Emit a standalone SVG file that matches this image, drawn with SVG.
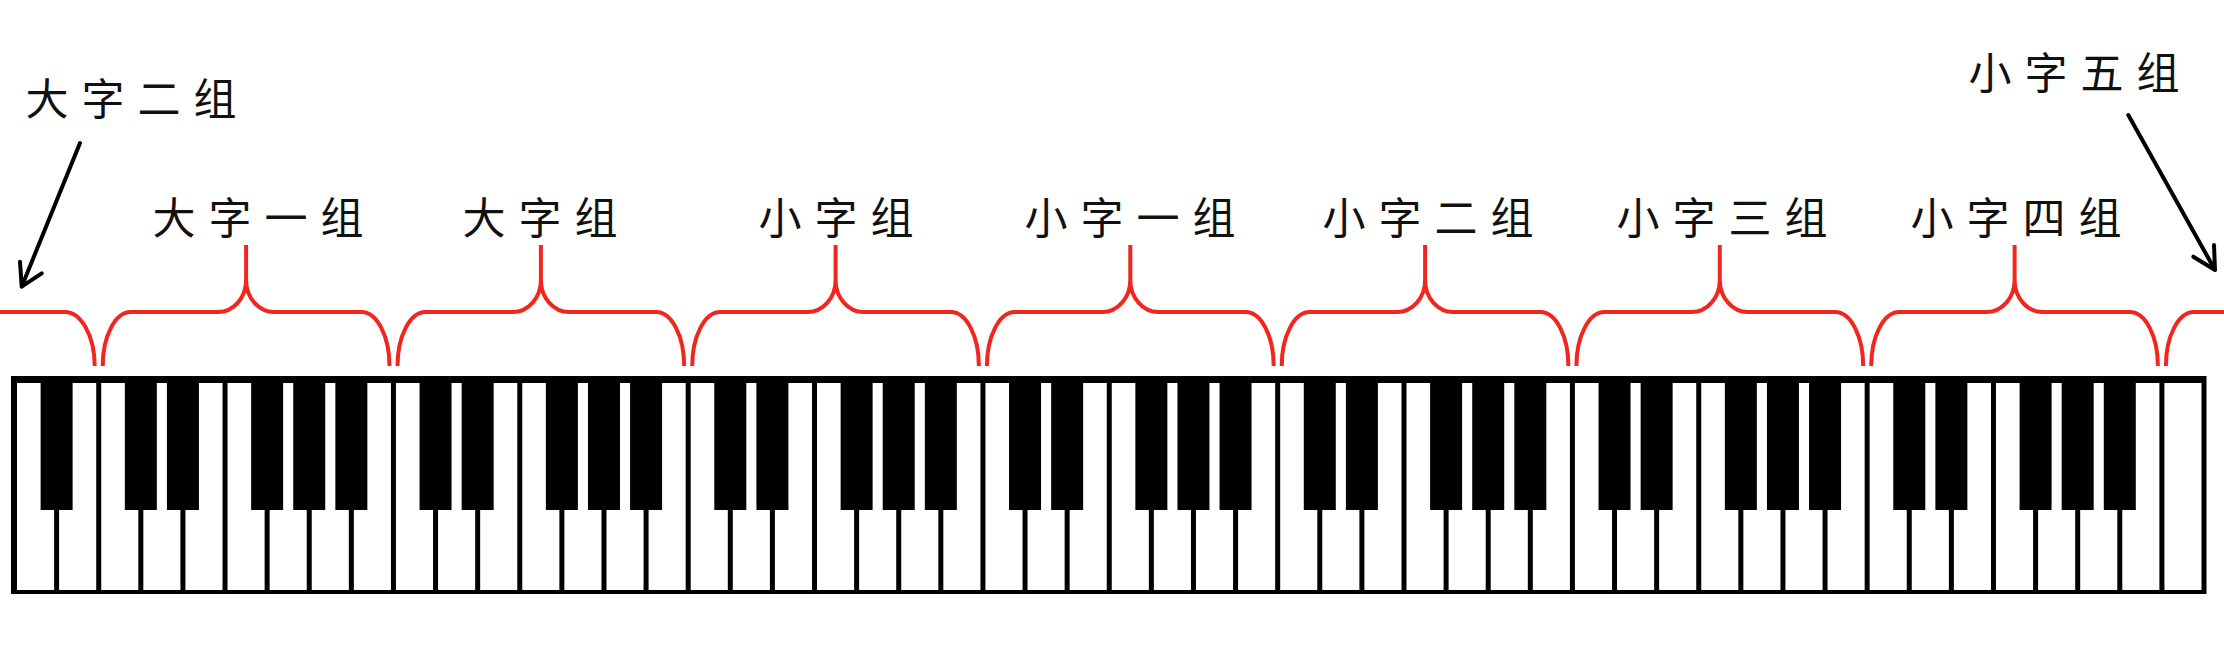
<svg xmlns="http://www.w3.org/2000/svg" width="2224" height="672" viewBox="0 0 2224 672">
<style>
.lbl{font-family:"Noto Sans CJK SC","Noto Sans CJK JP",sans-serif;font-size:43px;letter-spacing:13px;fill:#111;text-anchor:middle}
.brace{fill:none;stroke:#f0261f;stroke-width:4}
.w{fill:#fff}
.b{fill:#000}
.arr{fill:none;stroke:#000;stroke-width:4;stroke-linecap:round;stroke-linejoin:round}
</style>
<rect width="2224" height="672" fill="#fff"/>

<g id="keyboard">
<rect x="11" y="376" width="2195.5" height="218" fill="#000"/>
<g id="white-keys">
<rect class="w" x="17.00" y="383" width="37.1" height="207"/>
<rect class="w" x="59.11" y="383" width="37.1" height="207"/>
<rect class="w" x="101.21" y="383" width="37.1" height="207"/>
<rect class="w" x="143.32" y="383" width="37.1" height="207"/>
<rect class="w" x="185.42" y="383" width="37.1" height="207"/>
<rect class="w" x="227.53" y="383" width="37.1" height="207"/>
<rect class="w" x="269.64" y="383" width="37.1" height="207"/>
<rect class="w" x="311.74" y="383" width="37.1" height="207"/>
<rect class="w" x="353.85" y="383" width="37.1" height="207"/>
<rect class="w" x="395.95" y="383" width="37.1" height="207"/>
<rect class="w" x="438.06" y="383" width="37.1" height="207"/>
<rect class="w" x="480.17" y="383" width="37.1" height="207"/>
<rect class="w" x="522.27" y="383" width="37.1" height="207"/>
<rect class="w" x="564.38" y="383" width="37.1" height="207"/>
<rect class="w" x="606.48" y="383" width="37.1" height="207"/>
<rect class="w" x="648.59" y="383" width="37.1" height="207"/>
<rect class="w" x="690.70" y="383" width="37.1" height="207"/>
<rect class="w" x="732.80" y="383" width="37.1" height="207"/>
<rect class="w" x="774.91" y="383" width="37.1" height="207"/>
<rect class="w" x="817.01" y="383" width="37.1" height="207"/>
<rect class="w" x="859.12" y="383" width="37.1" height="207"/>
<rect class="w" x="901.23" y="383" width="37.1" height="207"/>
<rect class="w" x="943.33" y="383" width="37.1" height="207"/>
<rect class="w" x="985.44" y="383" width="37.1" height="207"/>
<rect class="w" x="1027.54" y="383" width="37.1" height="207"/>
<rect class="w" x="1069.65" y="383" width="37.1" height="207"/>
<rect class="w" x="1111.76" y="383" width="37.1" height="207"/>
<rect class="w" x="1153.86" y="383" width="37.1" height="207"/>
<rect class="w" x="1195.97" y="383" width="37.1" height="207"/>
<rect class="w" x="1238.07" y="383" width="37.1" height="207"/>
<rect class="w" x="1280.18" y="383" width="37.1" height="207"/>
<rect class="w" x="1322.29" y="383" width="37.1" height="207"/>
<rect class="w" x="1364.39" y="383" width="37.1" height="207"/>
<rect class="w" x="1406.50" y="383" width="37.1" height="207"/>
<rect class="w" x="1448.60" y="383" width="37.1" height="207"/>
<rect class="w" x="1490.71" y="383" width="37.1" height="207"/>
<rect class="w" x="1532.82" y="383" width="37.1" height="207"/>
<rect class="w" x="1574.92" y="383" width="37.1" height="207"/>
<rect class="w" x="1617.03" y="383" width="37.1" height="207"/>
<rect class="w" x="1659.13" y="383" width="37.1" height="207"/>
<rect class="w" x="1701.24" y="383" width="37.1" height="207"/>
<rect class="w" x="1743.35" y="383" width="37.1" height="207"/>
<rect class="w" x="1785.45" y="383" width="37.1" height="207"/>
<rect class="w" x="1827.56" y="383" width="37.1" height="207"/>
<rect class="w" x="1869.66" y="383" width="37.1" height="207"/>
<rect class="w" x="1911.77" y="383" width="37.1" height="207"/>
<rect class="w" x="1953.88" y="383" width="37.1" height="207"/>
<rect class="w" x="1995.98" y="383" width="37.1" height="207"/>
<rect class="w" x="2038.09" y="383" width="37.1" height="207"/>
<rect class="w" x="2080.19" y="383" width="37.1" height="207"/>
<rect class="w" x="2122.30" y="383" width="37.1" height="207"/>
<rect class="w" x="2164.41" y="383" width="37.1" height="207"/>
</g>
<g id="black-keys">
<rect class="b" x="40.61" y="376" width="32" height="134"/>
<rect class="b" x="124.82" y="376" width="32" height="134"/>
<rect class="b" x="166.92" y="376" width="32" height="134"/>
<rect class="b" x="251.14" y="376" width="32" height="134"/>
<rect class="b" x="293.24" y="376" width="32" height="134"/>
<rect class="b" x="335.35" y="376" width="32" height="134"/>
<rect class="b" x="419.56" y="376" width="32" height="134"/>
<rect class="b" x="461.67" y="376" width="32" height="134"/>
<rect class="b" x="545.88" y="376" width="32" height="134"/>
<rect class="b" x="587.98" y="376" width="32" height="134"/>
<rect class="b" x="630.09" y="376" width="32" height="134"/>
<rect class="b" x="714.30" y="376" width="32" height="134"/>
<rect class="b" x="756.41" y="376" width="32" height="134"/>
<rect class="b" x="840.62" y="376" width="32" height="134"/>
<rect class="b" x="882.73" y="376" width="32" height="134"/>
<rect class="b" x="924.83" y="376" width="32" height="134"/>
<rect class="b" x="1009.04" y="376" width="32" height="134"/>
<rect class="b" x="1051.15" y="376" width="32" height="134"/>
<rect class="b" x="1135.36" y="376" width="32" height="134"/>
<rect class="b" x="1177.47" y="376" width="32" height="134"/>
<rect class="b" x="1219.57" y="376" width="32" height="134"/>
<rect class="b" x="1303.79" y="376" width="32" height="134"/>
<rect class="b" x="1345.89" y="376" width="32" height="134"/>
<rect class="b" x="1430.10" y="376" width="32" height="134"/>
<rect class="b" x="1472.21" y="376" width="32" height="134"/>
<rect class="b" x="1514.32" y="376" width="32" height="134"/>
<rect class="b" x="1598.53" y="376" width="32" height="134"/>
<rect class="b" x="1640.63" y="376" width="32" height="134"/>
<rect class="b" x="1724.85" y="376" width="32" height="134"/>
<rect class="b" x="1766.95" y="376" width="32" height="134"/>
<rect class="b" x="1809.06" y="376" width="32" height="134"/>
<rect class="b" x="1893.27" y="376" width="32" height="134"/>
<rect class="b" x="1935.38" y="376" width="32" height="134"/>
<rect class="b" x="2019.59" y="376" width="32" height="134"/>
<rect class="b" x="2061.69" y="376" width="32" height="134"/>
<rect class="b" x="2103.80" y="376" width="32" height="134"/>
</g>
</g>

<g id="group-sub-contra">
<text class="lbl" x="137.5" y="115">大字二组</text>
<path class="brace" d="M0 312 H64 A30 54 0 0 1 94.7 366"/>
</g>
<g id="group-contra">
<text class="lbl" x="264.5" y="234">大字一组</text>
<path class="brace" d="M102.7 366 A28 54 0 0 1 130.7 312 H218.1 A28 32 0 0 0 246.1 280 V245 M246.1 280 A28 32 0 0 0 274.1 312 H361.5 A28 54 0 0 1 389.5 366"/>
</g>
<g id="group-great">
<text class="lbl" x="546.5" y="234">大字组</text>
<path class="brace" d="M397.5 366 A28 54 0 0 1 425.5 312 H512.9 A28 32 0 0 0 540.9 280 V245 M540.9 280 A28 32 0 0 0 568.9 312 H656.2 A28 54 0 0 1 684.2 366"/>
</g>
<g id="group-small">
<text class="lbl" x="842.5" y="234">小字组</text>
<path class="brace" d="M692.2 366 A28 54 0 0 1 720.2 312 H807.6 A28 32 0 0 0 835.6 280 V245 M835.6 280 A28 32 0 0 0 863.6 312 H950.9 A28 54 0 0 1 978.9 366"/>
</g>
<g id="group-one-line">
<text class="lbl" x="1136.5" y="234">小字一组</text>
<path class="brace" d="M986.9 366 A28 54 0 0 1 1014.9 312 H1102.3 A28 32 0 0 0 1130.3 280 V245 M1130.3 280 A28 32 0 0 0 1158.3 312 H1245.7 A28 54 0 0 1 1273.7 366"/>
</g>
<g id="group-two-line">
<text class="lbl" x="1434.5" y="234">小字二组</text>
<path class="brace" d="M1281.7 366 A28 54 0 0 1 1309.7 312 H1397.1 A28 32 0 0 0 1425.1 280 V245 M1425.1 280 A28 32 0 0 0 1453.1 312 H1540.4 A28 54 0 0 1 1568.4 366"/>
</g>
<g id="group-three-line">
<text class="lbl" x="1728.5" y="234">小字三组</text>
<path class="brace" d="M1576.4 366 A28 54 0 0 1 1604.4 312 H1691.8 A28 32 0 0 0 1719.8 280 V245 M1719.8 280 A28 32 0 0 0 1747.8 312 H1835.2 A28 54 0 0 1 1863.2 366"/>
</g>
<g id="group-four-line">
<text class="lbl" x="2022.5" y="234">小字四组</text>
<path class="brace" d="M1871.2 366 A28 54 0 0 1 1899.2 312 H1986.6 A28 32 0 0 0 2014.6 280 V245 M2014.6 280 A28 32 0 0 0 2042.6 312 H2129.9 A28 54 0 0 1 2157.9 366"/>
</g>
<g id="group-five-line">
<text class="lbl" x="2080.5" y="89">小字五组</text>
<path class="brace" d="M2165.9 366 A28 54 0 0 1 2193.9 312 H2224"/>
</g>

<g id="connectors">
<path class="arr" d="M80 143 L21.7 286.7 M20 261.7 L21.7 286.7 L41.7 273.3"/>
<path class="arr" d="M2128.3 115 L2215 270 M2193.3 256.7 L2215 270 L2214 245"/>
</g>
</svg>
